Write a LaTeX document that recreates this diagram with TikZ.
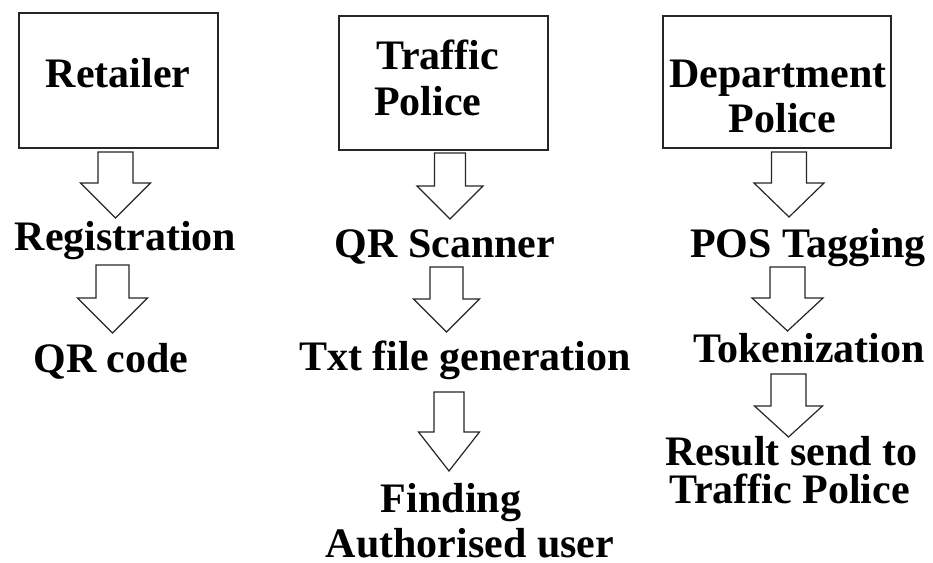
\documentclass[tikz,border=0pt]{standalone}
\usepackage{fontspec}
\setmainfont{Liberation Serif}
\begin{document}
\begin{tikzpicture}[x=1pt,y=-1pt,
  box/.style={draw=black!85,line width=1.3pt,rectangle,inner sep=0pt},
  lbl/.style={inner sep=0pt,font=\fontsize{42}{46}\selectfont\bfseries,anchor=base},
  lblw/.style={lbl,anchor=base west},
  arrowline/.style={draw=black!85,line width=1.2pt,fill=white,line join=miter},
  pics/blockarrow/.style n args={4}{code={
    \draw[arrowline] (-#1,0) -- (-#1,#3) -- (-#2,#3) -- (0,#4) -- (#2,#3) -- (#1,#3) -- (#1,0) -- cycle;}}
]
\useasboundingbox (0,0) rectangle (933,562);
% boxes
\node[box,minimum width=199pt,minimum height=135pt] (retailer) at (118.5,80.5) {};
\node[box,minimum width=209pt,minimum height=134pt] (traffic) at (443.5,83) {};
\node[box,minimum width=228pt,minimum height=132pt] (dept) at (777,82) {};
% box texts
\node[lbl] (tRetailer) at (118,87) {Retailer};
\node[lblw] (tTraffic1) at (376,69) {Traffic};
\node[lblw] (tTraffic2) at (374,115) {Police};
\node[lbl] (tDept1) at (778,87) {Department};
\node[lbl] (tDept2) at (782.5,132) {Police};
% column 1
\pic (a1) at (115.5,152) {blockarrow={17.5}{35}{31}{66}};
\node[lbl] (reg) at (125.5,250) {Registration};
\pic (a2) at (112.5,265) {blockarrow={16.5}{35}{33}{68}};
\node[lbl] (qrcode) at (111,372) {QR code};
% column 2
\pic (a3) at (450,153) {blockarrow={15.5}{33}{33}{66}};
\node[lbl] (scanner) at (445,257) {QR Scanner};
\pic (a4) at (446.5,267) {blockarrow={16.5}{33}{32}{65}};
\node[lbl] (txt) at (465,370) {Txt file generation};
\pic (a5) at (449,392) {blockarrow={15}{30.5}{40}{79}};
\node[lbl] (find1) at (451,512) {Finding};
\node[lbl] (find2) at (470,557) {Authorised user};
% column 3
\pic (a6) at (789,152) {blockarrow={17.5}{35}{31}{65}};
\node[lbl] (pos) at (808,257) {POS Tagging};
\pic (a7) at (787.5,267) {blockarrow={17.5}{35.5}{31}{64}};
\node[lbl] (token) at (809,362) {Tokenization};
\pic (a8) at (788.5,374) {blockarrow={17.5}{34}{32}{63}};
\node[lbl] (res1) at (791.5,465) {Result send to};
\node[lbl] (res2) at (789.5,503) {Traffic Police};
\end{tikzpicture}
\end{document}
